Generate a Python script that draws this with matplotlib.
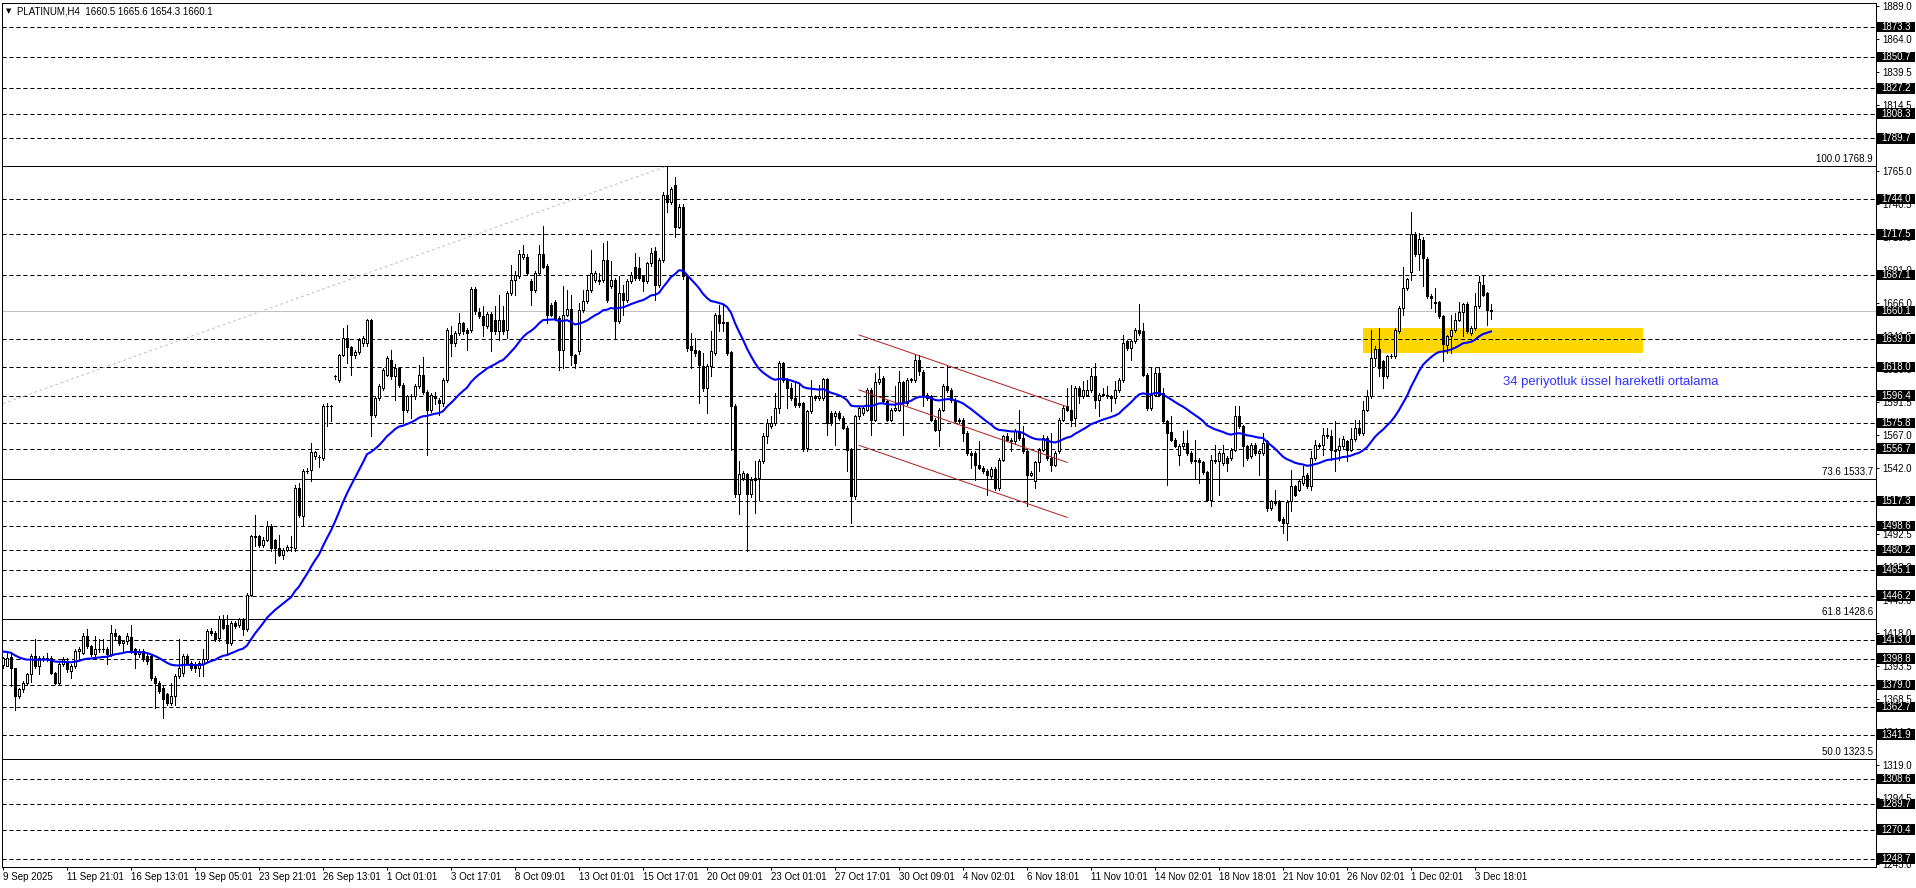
import matplotlib
matplotlib.use("Agg")
import matplotlib.pyplot as plt
import matplotlib.transforms as mtransforms
from matplotlib.patches import Rectangle
import numpy as np

plt.rcParams['font.family'] = ['Liberation Sans', 'DejaVu Sans']
plt.rcParams['lines.scale_dashes'] = False

# PLATINUM H4 candles
opens = [
    1394.0, 1393.5, 1400.0, 1391.5, 1370.5, 1375.8, 1380.8, 1387.0, 1400.8, 1393.3,
    1399.5, 1399.0, 1399.5, 1388.3, 1380.8, 1394.5, 1397.0, 1389.5, 1393.3, 1404.5,
    1403.3, 1415.8, 1408.3, 1402.0, 1405.8, 1406.5, 1406.0, 1402.0, 1418.3, 1415.8,
    1410.8, 1412.0, 1415.0, 1405.8, 1402.0, 1404.5, 1400.8, 1400.8, 1384.5, 1380.8,
    1377.0, 1372.0, 1365.8, 1371.0, 1385.8, 1388.0, 1400.8, 1395.8, 1394.5, 1392.0,
    1394.5, 1398.3, 1419.5, 1418.3, 1414.5, 1428.3, 1424.5, 1410.8, 1425.8, 1424.5,
    1428.3, 1420.8, 1447.0, 1490.8, 1490.8, 1484.5, 1488.3, 1498.8, 1488.0, 1482.0,
    1477.0, 1480.8, 1482.8, 1482.0, 1527.0, 1505.8, 1539.5, 1540.8, 1550.8, 1550.5,
    1549.5, 1588.8, 1588.5, 1611.0, 1608.3, 1627.0, 1639.5, 1633.3, 1627.0, 1629.5,
    1635.8, 1635.8, 1653.3, 1582.0, 1594.5, 1602.0, 1612.0, 1623.3, 1610.8, 1617.0,
    1604.5, 1585.8, 1595.8, 1595.8, 1603.3, 1612.0, 1599.5, 1585.8, 1596.0, 1593.3,
    1591.0, 1608.4, 1642.2, 1635.9, 1643.4, 1650.9, 1645.9, 1645.9, 1676.4, 1658.9,
    1656.4, 1648.4, 1657.7, 1653.4, 1644.7, 1653.4, 1646.0, 1673.4, 1682.9, 1686.4,
    1700.9, 1700.9, 1682.2, 1675.9, 1688.4, 1702.9, 1693.9, 1664.7, 1666.4, 1654.7,
    1630.9, 1657.2, 1661.4, 1627.2, 1629.7, 1660.9, 1667.2, 1675.4, 1683.4, 1683.4,
    1683.4, 1698.4, 1678.4, 1683.4, 1652.2, 1673.4, 1668.4, 1682.2, 1693.4, 1692.2,
    1685.9, 1682.2, 1695.9, 1704.7, 1679.7, 1698.4, 1747.2, 1742.2, 1754.7, 1723.4,
    1738.4, 1685.9, 1633.4, 1630.9, 1629.7, 1618.4, 1602.2, 1618.4, 1628.4, 1657.2,
    1650.9, 1651.4, 1628.9, 1588.4, 1522.2, 1534.7, 1537.2, 1522.2, 1534.7, 1534.7,
    1547.2, 1566.4, 1573.4, 1575.9, 1587.2, 1620.9, 1608.4, 1602.2, 1594.7, 1590.9,
    1590.9, 1557.2, 1584.7, 1595.9, 1594.7, 1594.7, 1608.9, 1583.4, 1580.9, 1583.4,
    1579.7, 1572.2, 1555.9, 1520.9, 1580.9, 1583.4, 1585.9, 1600.9, 1578.4, 1606.4,
    1609.7, 1592.2, 1578.4, 1585.9, 1585.9, 1606.4, 1590.9, 1608.4, 1608.4, 1623.4,
    1614.5, 1597.1, 1595.8, 1578.3, 1570.8, 1585.8, 1603.3, 1600.8, 1593.3, 1578.3,
    1578.3, 1568.3, 1553.3, 1553.3, 1544.6, 1542.1, 1539.6, 1535.8, 1541.3, 1527.1,
    1548.3, 1565.8, 1563.3, 1562.1, 1569.6, 1564.6, 1554.6, 1537.1, 1532.1, 1546.3,
    1555.8, 1564.6, 1549.6, 1544.6, 1554.6, 1578.3, 1588.3, 1585.8, 1579.6, 1602.1,
    1595.8, 1597.1, 1600.8, 1610.8, 1593.3, 1597.1, 1597.1, 1595.8, 1594.6, 1600.8,
    1608.3, 1637.1, 1632.1, 1637.1, 1645.8, 1644.6, 1612.1, 1587.1, 1597.1, 1613.3,
    1598.3, 1577.1, 1568.8, 1563.3, 1552.1, 1558.3, 1560.8, 1553.3, 1548.3, 1548.3,
    1546.3, 1538.8, 1518.3, 1548.3, 1547.1, 1545.8, 1549.6, 1549.6, 1555.8, 1580.8,
    1573.3, 1558.3, 1550.8, 1559.6, 1553.3, 1553.3, 1562.1, 1512.1, 1517.1, 1517.1,
    1503.8, 1500.8, 1517.1, 1528.4, 1525.9, 1530.9, 1537.1, 1528.4, 1549.6, 1559.6,
    1559.6, 1567.1, 1565.9, 1554.6, 1555.9, 1558.4, 1562.1, 1555.9, 1563.9, 1572.1,
    1568.4, 1585.9, 1595.9, 1624.6, 1631.4, 1622.1, 1610.9, 1625.9, 1625.9, 1644.6,
    1662.1, 1677.1, 1688.9, 1717.9, 1702.9, 1713.4, 1699.1, 1671.4, 1667.0, 1666.4,
    1655.9, 1634.6, 1640.9, 1645.4, 1653.4, 1659.6, 1665.4, 1643.4, 1647.1, 1663.4,
    1679.6, 1673.4, 1660.5,
]
highs = [
    1400.0, 1404.0, 1404.0, 1392.0, 1377.0, 1382.0, 1388.0, 1402.0, 1413.3, 1401.0,
    1401.0, 1403.0, 1401.0, 1389.0, 1396.0, 1400.0, 1399.0, 1395.0, 1406.0, 1408.0,
    1418.3, 1420.8, 1409.0, 1415.8, 1414.0, 1414.0, 1407.5, 1424.5, 1420.8, 1417.0,
    1413.0, 1418.3, 1424.5, 1407.0, 1406.0, 1406.0, 1402.0, 1402.0, 1386.0, 1382.0,
    1378.0, 1373.0, 1380.8, 1387.0, 1413.3, 1402.0, 1402.0, 1397.0, 1396.0, 1397.0,
    1405.8, 1421.0, 1422.0, 1419.5, 1430.8, 1432.0, 1432.0, 1427.0, 1427.0, 1429.5,
    1429.5, 1448.5, 1492.0, 1507.0, 1492.0, 1490.0, 1502.0, 1500.0, 1489.0, 1492.0,
    1482.0, 1484.0, 1490.8, 1529.0, 1530.8, 1541.0, 1542.0, 1560.8, 1555.0, 1552.0,
    1590.0, 1590.8, 1589.5, 1612.0, 1628.0, 1647.0, 1649.5, 1634.0, 1631.0, 1639.5,
    1641.0, 1654.0, 1654.0, 1596.0, 1605.0, 1617.0, 1626.0, 1630.8, 1620.0, 1618.0,
    1606.0, 1597.0, 1598.0, 1605.0, 1619.5, 1625.8, 1601.0, 1598.5, 1599.0, 1595.0,
    1610.0, 1647.0, 1648.4, 1645.0, 1658.4, 1652.0, 1647.0, 1678.0, 1678.0, 1662.0,
    1663.4, 1659.0, 1659.0, 1663.4, 1672.2, 1663.4, 1675.0, 1694.7, 1689.7, 1705.9,
    1709.7, 1703.0, 1684.0, 1690.0, 1709.7, 1723.9, 1695.0, 1666.0, 1668.0, 1656.0,
    1678.4, 1675.9, 1672.2, 1628.0, 1665.9, 1675.9, 1687.2, 1705.9, 1689.7, 1688.4,
    1711.4, 1712.9, 1697.2, 1685.0, 1685.9, 1679.7, 1684.0, 1689.0, 1703.4, 1700.9,
    1687.0, 1697.0, 1707.2, 1708.4, 1700.0, 1749.0, 1768.9, 1753.0, 1760.9, 1740.0,
    1740.0, 1687.0, 1643.4, 1639.7, 1631.0, 1628.4, 1620.0, 1644.7, 1658.4, 1664.7,
    1665.4, 1652.0, 1630.0, 1590.0, 1547.2, 1539.7, 1538.5, 1535.0, 1547.2, 1548.5,
    1568.0, 1578.9, 1580.9, 1598.4, 1622.2, 1622.0, 1609.5, 1605.9, 1605.9, 1605.9,
    1592.0, 1586.0, 1608.4, 1597.0, 1604.7, 1610.0, 1610.0, 1585.0, 1585.0, 1585.0,
    1581.0, 1573.5, 1557.0, 1582.0, 1588.5, 1589.0, 1602.0, 1602.0, 1613.4, 1618.4,
    1611.0, 1593.5, 1587.0, 1603.4, 1614.7, 1607.5, 1609.5, 1610.0, 1627.2, 1627.2,
    1616.0, 1598.5, 1597.0, 1579.5, 1587.0, 1605.0, 1618.3, 1602.0, 1594.5, 1579.5,
    1579.5, 1569.5, 1554.5, 1554.5, 1562.1, 1543.3, 1541.0, 1542.5, 1542.5, 1549.5,
    1567.0, 1568.3, 1564.5, 1571.0, 1585.8, 1573.3, 1556.0, 1539.5, 1547.5, 1557.0,
    1567.1, 1565.8, 1568.3, 1554.5, 1579.5, 1588.3, 1602.1, 1604.6, 1603.3, 1603.3,
    1607.1, 1608.3, 1617.1, 1621.3, 1598.5, 1602.1, 1603.3, 1597.0, 1607.1, 1609.5,
    1642.1, 1638.3, 1638.3, 1647.1, 1665.3, 1650.8, 1613.3, 1617.1, 1617.1, 1617.8,
    1602.1, 1578.3, 1580.8, 1564.6, 1560.0, 1569.6, 1570.8, 1554.6, 1563.3, 1549.6,
    1547.5, 1540.0, 1552.1, 1559.6, 1554.6, 1559.6, 1551.0, 1557.0, 1588.3, 1588.3,
    1574.6, 1559.6, 1561.0, 1561.0, 1556.0, 1568.3, 1563.3, 1518.3, 1525.8, 1518.3,
    1505.0, 1518.0, 1540.8, 1529.5, 1533.5, 1543.3, 1538.5, 1554.6, 1563.4, 1561.0,
    1572.1, 1572.1, 1570.9, 1577.1, 1564.6, 1565.9, 1563.4, 1572.1, 1578.4, 1578.4,
    1592.1, 1600.9, 1645.9, 1633.4, 1647.1, 1623.4, 1627.1, 1627.5, 1647.1, 1663.9,
    1693.4, 1685.1, 1734.6, 1719.1, 1718.4, 1715.9, 1700.4, 1672.6, 1677.1, 1667.6,
    1657.1, 1642.1, 1657.1, 1658.4, 1666.4, 1665.9, 1666.6, 1648.4, 1673.4, 1685.9,
    1685.9, 1674.6, 1665.6,
]
lows = [
    1392.0, 1393.0, 1378.0, 1360.5, 1369.0, 1374.0, 1379.0, 1381.0, 1392.0, 1387.0,
    1397.0, 1397.0, 1387.0, 1379.5, 1379.5, 1393.0, 1389.0, 1384.5, 1392.0, 1398.0,
    1402.0, 1407.0, 1400.5, 1401.0, 1404.0, 1404.0, 1394.5, 1400.5, 1414.0, 1409.5,
    1404.5, 1410.0, 1403.0, 1392.0, 1400.0, 1397.0, 1394.5, 1383.0, 1362.0, 1373.0,
    1354.5, 1364.0, 1364.0, 1364.0, 1384.0, 1386.0, 1394.5, 1390.0, 1389.0, 1385.8,
    1385.8, 1397.0, 1417.0, 1412.0, 1412.0, 1421.0, 1402.0, 1409.5, 1422.0, 1423.0,
    1417.0, 1419.5, 1446.0, 1483.3, 1483.0, 1483.0, 1487.0, 1480.0, 1470.8, 1476.0,
    1474.0, 1480.0, 1479.5, 1480.0, 1505.0, 1498.3, 1538.0, 1532.0, 1549.0, 1543.0,
    1548.0, 1573.3, 1577.0, 1609.0, 1607.0, 1626.0, 1620.8, 1612.0, 1625.0, 1628.0,
    1634.0, 1634.0, 1565.8, 1580.0, 1593.0, 1601.0, 1611.0, 1609.0, 1593.3, 1603.0,
    1575.8, 1584.0, 1579.5, 1594.0, 1602.0, 1598.0, 1552.0, 1584.0, 1590.0, 1582.0,
    1588.4, 1607.0, 1625.9, 1634.0, 1642.0, 1643.0, 1630.9, 1644.0, 1658.0, 1654.5,
    1640.9, 1647.0, 1629.7, 1643.0, 1638.4, 1643.0, 1640.0, 1672.0, 1672.2, 1685.0,
    1699.0, 1687.0, 1664.7, 1674.0, 1687.0, 1692.0, 1650.9, 1656.0, 1653.0, 1615.9,
    1617.2, 1656.0, 1619.7, 1617.2, 1628.0, 1659.0, 1666.0, 1674.0, 1682.0, 1680.0,
    1682.0, 1667.0, 1677.0, 1639.7, 1651.0, 1657.2, 1667.0, 1681.0, 1683.0, 1683.0,
    1674.7, 1681.0, 1694.0, 1668.4, 1678.0, 1697.0, 1734.7, 1740.0, 1715.9, 1722.0,
    1684.0, 1630.0, 1617.2, 1626.0, 1590.9, 1600.0, 1583.4, 1610.9, 1627.0, 1644.7,
    1644.7, 1627.0, 1555.9, 1520.0, 1507.2, 1533.0, 1479.7, 1520.0, 1508.4, 1518.4,
    1546.0, 1560.9, 1572.0, 1574.0, 1583.4, 1607.0, 1587.2, 1593.0, 1588.0, 1588.0,
    1555.0, 1554.7, 1583.0, 1593.0, 1593.0, 1593.0, 1567.2, 1574.5, 1559.7, 1578.0,
    1571.0, 1539.7, 1500.9, 1519.0, 1579.0, 1582.0, 1584.5, 1567.2, 1577.0, 1605.0,
    1590.9, 1577.0, 1577.0, 1585.0, 1584.5, 1567.2, 1589.5, 1607.0, 1607.0, 1612.0,
    1588.3, 1593.0, 1577.0, 1569.5, 1558.3, 1584.5, 1599.5, 1592.0, 1576.0, 1576.0,
    1562.1, 1552.0, 1542.1, 1533.3, 1541.0, 1538.3, 1522.1, 1534.5, 1525.8, 1525.8,
    1547.0, 1562.0, 1554.5, 1561.0, 1563.3, 1553.3, 1513.3, 1536.0, 1527.1, 1539.6,
    1554.5, 1548.3, 1539.6, 1543.3, 1553.3, 1577.0, 1584.5, 1573.3, 1573.3, 1590.8,
    1594.5, 1596.0, 1599.5, 1587.1, 1580.8, 1595.8, 1594.5, 1584.6, 1590.8, 1599.5,
    1607.0, 1630.8, 1623.3, 1635.8, 1642.1, 1610.8, 1585.8, 1585.8, 1595.8, 1595.8,
    1575.8, 1529.6, 1562.1, 1557.5, 1544.6, 1557.0, 1552.1, 1545.8, 1534.6, 1530.8,
    1537.5, 1517.1, 1513.3, 1545.8, 1522.1, 1544.6, 1539.6, 1548.3, 1554.6, 1572.1,
    1543.3, 1548.3, 1549.6, 1552.1, 1537.1, 1552.1, 1509.6, 1510.8, 1514.6, 1502.1,
    1493.0, 1488.3, 1509.6, 1520.8, 1524.5, 1529.5, 1527.0, 1525.9, 1548.3, 1557.0,
    1552.1, 1564.6, 1548.4, 1539.6, 1548.4, 1557.1, 1547.1, 1554.6, 1562.6, 1567.1,
    1567.1, 1584.6, 1594.6, 1618.4, 1610.9, 1602.1, 1609.6, 1624.6, 1624.6, 1643.4,
    1657.1, 1675.9, 1683.4, 1701.6, 1690.9, 1678.4, 1669.6, 1662.1, 1659.6, 1654.6,
    1622.1, 1628.4, 1628.4, 1644.1, 1652.1, 1640.9, 1643.4, 1642.1, 1645.9, 1662.1,
    1670.9, 1649.6, 1654.3,
]
closes = [
    1399.0, 1399.5, 1391.5, 1370.5, 1375.8, 1380.8, 1387.0, 1400.8, 1393.3, 1399.5,
    1399.0, 1399.5, 1388.3, 1380.8, 1394.5, 1398.3, 1390.8, 1393.3, 1404.5, 1406.0,
    1415.8, 1408.3, 1402.0, 1405.8, 1406.5, 1406.0, 1402.0, 1418.3, 1415.8, 1410.8,
    1412.0, 1415.8, 1404.5, 1402.0, 1404.5, 1398.3, 1397.0, 1384.5, 1380.8, 1374.5,
    1368.3, 1365.8, 1371.0, 1385.8, 1392.0, 1400.8, 1395.8, 1392.0, 1392.0, 1395.8,
    1398.3, 1419.5, 1418.3, 1413.3, 1428.3, 1422.0, 1410.8, 1425.8, 1423.3, 1428.3,
    1420.8, 1447.0, 1490.8, 1490.0, 1484.5, 1488.3, 1498.8, 1482.0, 1482.0, 1477.0,
    1480.8, 1482.8, 1482.5, 1527.0, 1507.0, 1539.5, 1540.0, 1553.8, 1553.8, 1550.0,
    1588.8, 1588.5, 1588.8, 1610.8, 1627.0, 1639.5, 1633.3, 1627.0, 1629.5, 1638.3,
    1639.5, 1653.3, 1582.0, 1594.5, 1603.3, 1615.8, 1624.5, 1610.8, 1617.0, 1604.5,
    1585.8, 1595.8, 1596.0, 1603.3, 1612.0, 1599.5, 1585.8, 1597.0, 1594.5, 1590.8,
    1608.4, 1645.9, 1635.9, 1643.4, 1650.9, 1644.7, 1643.4, 1676.4, 1659.7, 1655.9,
    1649.7, 1657.7, 1644.7, 1644.7, 1653.4, 1644.7, 1673.4, 1682.9, 1687.2, 1702.9,
    1702.9, 1688.4, 1675.9, 1688.4, 1702.9, 1693.4, 1657.2, 1657.2, 1654.7, 1630.9,
    1657.2, 1661.4, 1627.2, 1620.9, 1660.9, 1667.2, 1675.4, 1688.4, 1688.4, 1682.2,
    1698.4, 1668.4, 1683.4, 1652.2, 1673.4, 1668.4, 1682.2, 1687.2, 1684.7, 1684.7,
    1682.2, 1695.9, 1703.4, 1679.7, 1698.4, 1747.2, 1742.2, 1751.4, 1723.4, 1738.4,
    1685.9, 1632.2, 1630.9, 1628.4, 1619.7, 1602.2, 1618.4, 1629.7, 1657.2, 1650.9,
    1651.4, 1628.4, 1588.4, 1522.2, 1537.2, 1538.4, 1522.2, 1533.4, 1533.4, 1547.2,
    1566.4, 1575.9, 1575.9, 1587.2, 1620.9, 1608.4, 1602.2, 1594.7, 1589.7, 1589.7,
    1557.2, 1584.7, 1595.9, 1594.7, 1596.4, 1608.9, 1575.9, 1575.9, 1583.4, 1579.7,
    1572.2, 1555.9, 1520.9, 1580.9, 1587.2, 1587.2, 1600.9, 1578.4, 1606.4, 1608.9,
    1592.2, 1578.4, 1585.9, 1587.2, 1606.4, 1590.9, 1608.4, 1608.9, 1623.4, 1614.7,
    1597.1, 1594.5, 1578.3, 1570.8, 1585.8, 1603.3, 1600.8, 1593.3, 1577.1, 1577.1,
    1568.3, 1553.3, 1552.1, 1544.6, 1542.1, 1539.6, 1537.1, 1541.3, 1527.1, 1548.3,
    1565.8, 1563.3, 1562.1, 1569.6, 1564.6, 1554.6, 1537.1, 1538.3, 1546.3, 1555.8,
    1564.6, 1549.6, 1544.6, 1553.3, 1578.3, 1587.1, 1585.8, 1578.3, 1602.1, 1595.8,
    1600.8, 1600.8, 1610.8, 1593.3, 1597.1, 1597.3, 1595.8, 1594.6, 1600.8, 1608.3,
    1635.8, 1632.1, 1637.1, 1645.8, 1643.3, 1612.1, 1587.1, 1597.1, 1613.3, 1597.1,
    1577.1, 1568.3, 1563.3, 1558.8, 1558.8, 1560.8, 1553.3, 1547.1, 1547.1, 1546.3,
    1538.8, 1518.3, 1548.3, 1547.1, 1553.3, 1553.3, 1545.8, 1555.8, 1580.8, 1573.3,
    1558.3, 1549.6, 1559.6, 1553.3, 1554.6, 1560.8, 1512.1, 1517.1, 1515.8, 1503.3,
    1500.8, 1516.8, 1528.3, 1522.1, 1532.1, 1535.9, 1528.4, 1549.6, 1559.6, 1558.4,
    1567.1, 1565.9, 1555.9, 1555.9, 1558.9, 1563.9, 1555.9, 1563.9, 1572.1, 1568.4,
    1585.9, 1596.4, 1624.6, 1631.4, 1617.1, 1610.9, 1625.9, 1626.4, 1645.9, 1662.1,
    1677.1, 1683.9, 1717.9, 1702.9, 1713.9, 1699.6, 1670.9, 1669.6, 1665.9, 1655.9,
    1635.4, 1640.9, 1645.4, 1653.4, 1659.6, 1665.4, 1644.6, 1647.1, 1663.4, 1682.1,
    1672.1, 1660.4, 1660.1,
]

time_labels = ["9 Sep 2025", "11 Sep 21:01", "16 Sep 13:01", "19 Sep 05:01", "23 Sep 21:01",
               "26 Sep 13:01", "1 Oct 01:01", "3 Oct 17:01", "8 Oct 09:01", "13 Oct 01:01",
               "15 Oct 17:01", "20 Oct 09:01", "23 Oct 01:01", "27 Oct 17:01", "30 Oct 09:01",
               "4 Nov 02:01", "6 Nov 18:01", "11 Nov 10:01", "14 Nov 02:01", "18 Nov 18:01",
               "21 Nov 10:01", "26 Nov 02:01", "1 Dec 02:01", "3 Dec 18:01"]
bars_per_label = 16

price_ticks = [1889.0, 1864.0, 1839.5, 1814.5, 1790.0, 1765.0, 1740.5, 1715.5, 1691.0,
               1666.0, 1641.5, 1616.5, 1591.5, 1567.0, 1542.0, 1517.5, 1492.5, 1468.0,
               1443.0, 1418.0, 1393.5, 1368.5, 1344.0, 1319.0, 1294.5, 1270.0, 1245.0]

# horizontal dashed levels
levels = [1873.3, 1850.7, 1827.2, 1808.3, 1789.7, 1744.0, 1717.5, 1687.1, 1639.0,
          1618.0, 1596.4, 1575.8, 1556.7, 1517.3, 1498.6, 1480.2, 1465.1, 1446.2,
          1413.0, 1398.8, 1379.0, 1362.7, 1341.9, 1308.6, 1289.7, 1270.4, 1248.7]
bid_price = 1660.1

fib_values = [1768.9, 1533.7, 1428.6, 1323.5]
fib_names = ["100.0", "73.6", "61.8", "50.0"]
fib_trend_bars = [0, 166]
fib_trend_prices = [1590.4, 1768.9]

channel_bars = [214, 266]
channel_upper = [1642.0, 1588.1]
channel_mid = [1600.7, 1546.3]
channel_lower = [1559.1, 1505.0]

zone_bars = [339.9, 409.9]
zone_prices = [1628.7, 1647.5]

ema_period = 34
ema_seed = 1404.5
note = "34 periyotluk üssel hareketli ortalama"
note_pos = (375, 1606.7)

# EMA 34
alpha = 2.0 / (ema_period + 1)
ema = []
prev = ema_seed
for c in closes:
    prev = prev + alpha * (c - prev)
    ema.append(prev)

W, H = 1916, 888
fig = plt.figure(figsize=(W / 100, H / 100), dpi=100)
fig.patch.set_facecolor('white')
ax = fig.add_axes([2 / W, (H - 867) / H, 1874 / W, 864 / H])
ax.set_xlim(-0.25, 468.25)
ax.set_ylim(1242.4, 1891.3)

o = np.array(opens)
h = np.array(highs)
l = np.array(lows)
c = np.array(closes)
idx = np.arange(len(c))
up = c >= o

# zone + levels
ax.add_patch(Rectangle((zone_bars[0], zone_prices[0]), zone_bars[1] - zone_bars[0],
                       zone_prices[1] - zone_prices[0], facecolor='#FFD700',
                       edgecolor='none', zorder=1))
for lv in levels:
    ax.axhline(lv, color='black', lw=0.72, linestyle=(0, (3, 2)), zorder=2)
ax.axhline(bid_price, color='#C0C0C0', lw=0.72, zorder=2)
for fv in fib_values:
    ax.axhline(fv, color='black', lw=0.72, zorder=2)
ax.plot(fib_trend_bars, fib_trend_prices, color='#C0C0C0', lw=0.72,
        linestyle=(0, (2, 2)), zorder=2)

# candles
ax.vlines(idx, l, h, color='black', lw=0.72, antialiased=False, zorder=4)
body_low = np.minimum(o, c)
body_h = np.abs(c - o)
ax.bar(idx[up], body_h[up], bottom=body_low[up], width=0.5, facecolor='white',
       edgecolor='black', linewidth=0.72, antialiased=False, zorder=5)
ax.bar(idx[~up], body_h[~up], bottom=body_low[~up], width=0.5, facecolor='black',
       edgecolor='black', linewidth=0.72, antialiased=False, zorder=5)

# channel
for line in (channel_upper, channel_mid, channel_lower):
    ax.plot(channel_bars, line, color='#B22222', lw=0.72, zorder=6)

ax.plot(idx, ema, color='#0000FF', lw=1.5, zorder=7)
ax.text(note_pos[0], note_pos[1], note, color='#3232FF', fontsize=9.4,
        ha='left', va='center', zorder=8)

# axes styling
for sp in ax.spines.values():
    sp.set_linewidth(0.72)
    sp.set_color('black')
ax.yaxis.tick_right()
ax.set_yticks(price_ticks)
ax.set_yticklabels([f"{v:.1f}" for v in price_ticks])
ax.tick_params(axis='y', direction='out', length=2.2, width=0.72, pad=2, labelsize=7)
ax.set_xticks(np.arange(len(time_labels)) * bars_per_label)
ax.set_xticklabels(time_labels)
for t in ax.get_xticklabels():
    t.set_horizontalalignment('left')
ax.tick_params(axis='x', direction='out', length=2.2, width=0.72, pad=1.5, labelsize=7)

# price boxes on the right scale
ytrans = ax.get_yaxis_transform()
px_price = (1891.3 - 1242.4) / 864.0
box_off = mtransforms.ScaledTranslation(5 / 100, 0, fig.dpi_scale_trans)
for lv in levels + [bid_price]:
    ax.add_patch(Rectangle((1.0 + 1 / 1874, lv - 5.3 * px_price), 38 / 1874, 10.6 * px_price,
                           transform=ytrans, facecolor='black', edgecolor='none',
                           clip_on=False, zorder=10))
    ax.text(1.0, lv, f"{lv:.1f}", transform=ytrans + box_off, color='white', fontsize=7,
            ha='left', va='center', clip_on=False, zorder=11)

fib_off = mtransforms.ScaledTranslation(-3 / 100, 2 / 100, fig.dpi_scale_trans)
for fv, fn in zip(fib_values, fib_names):
    ax.text(1.0, fv, f"{fn} {fv:.1f}", transform=ytrans + fib_off, fontsize=7,
            ha='right', va='bottom', zorder=11)

# header
fig.text(6 / W, 1 - 11 / H, "▼", fontsize=5, family='DejaVu Sans', va='center', ha='left')
fig.text(17 / W, 1 - 11 / H,
         f"PLATINUM,H4  {opens[-1]} {highs[-1]} {lows[-1]} {closes[-1]}",
         fontsize=7, va='center', ha='left')

fig.savefig("out.png", dpi=100, facecolor='white')
